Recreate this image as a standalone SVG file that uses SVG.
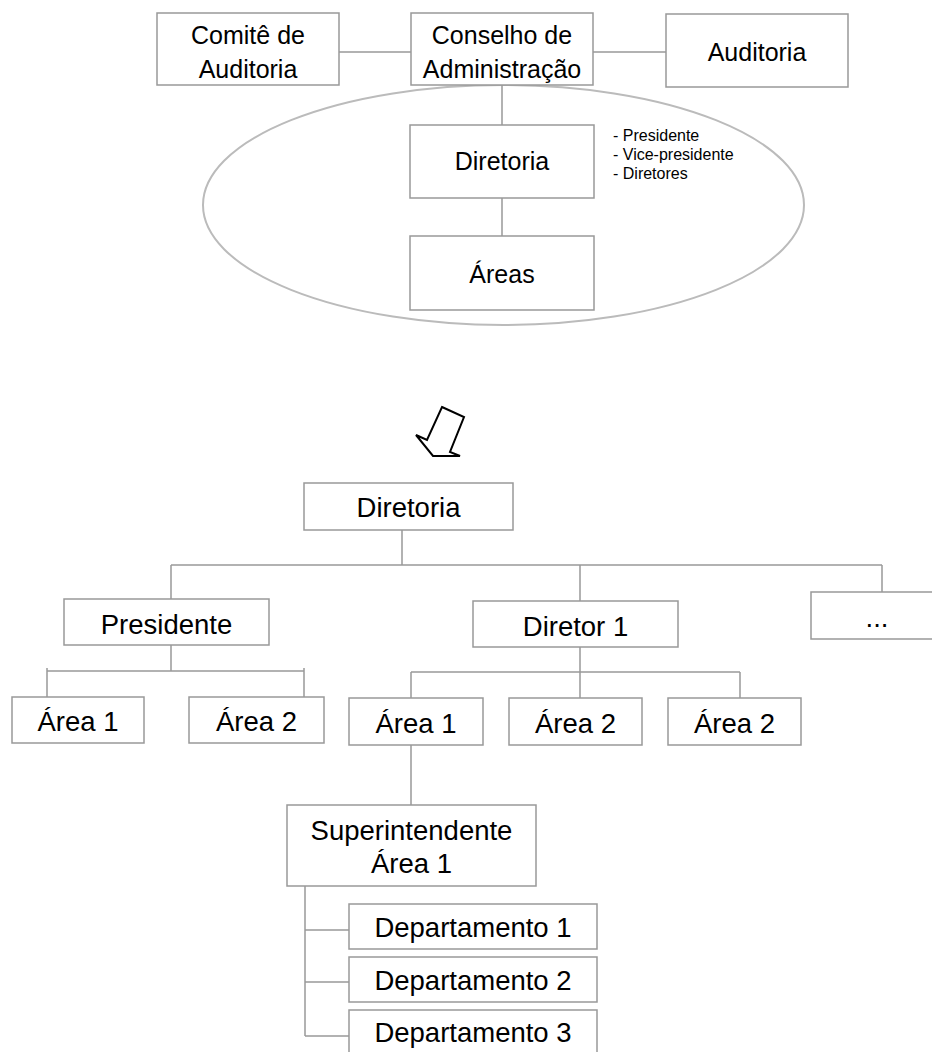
<svg xmlns="http://www.w3.org/2000/svg" width="932" height="1052" viewBox="0 0 932 1052">
  <style>
    .box { fill: #ffffff; stroke: #999999; stroke-width: 1.5; }
    .link { fill: none; stroke: #999999; stroke-width: 1.5; }
    .t25 { font-family: "Liberation Sans", Arial, sans-serif; font-size: 25px; fill: #000000; text-anchor: middle; }
    .t28 { font-family: "Liberation Sans", Arial, sans-serif; font-size: 27.5px; fill: #000000; text-anchor: middle; }
    .small { font-family: "Liberation Sans", Arial, sans-serif; font-size: 16px; fill: #000000; }
  </style>
  <rect width="932" height="1052" fill="#ffffff"/>

  <!-- governance group outline -->
  <ellipse id="governance-ring" cx="503.5" cy="205" rx="300.5" ry="120" fill="none" stroke="#bbbbbb" stroke-width="2"/>

  <!-- connectors -->
  <g id="connectors" class="link">
    <!-- top section -->
    <line x1="339" y1="52" x2="411" y2="52"/>
    <line x1="593" y1="52" x2="666" y2="52"/>
    <line x1="502" y1="85" x2="502" y2="125"/>
    <line x1="502" y1="198" x2="502" y2="236"/>
    <!-- Diretoria to first level -->
    <line x1="402" y1="530" x2="402" y2="565"/>
    <line x1="171" y1="565" x2="882" y2="565"/>
    <line x1="171" y1="565" x2="171" y2="599"/>
    <line x1="580" y1="565" x2="580" y2="601"/>
    <line x1="882" y1="565" x2="882" y2="592"/>
    <!-- Presidente areas -->
    <line x1="171" y1="645" x2="171" y2="671"/>
    <line x1="47" y1="671" x2="304" y2="671"/>
    <line x1="47" y1="668" x2="47" y2="697"/>
    <line x1="304" y1="668" x2="304" y2="697"/>
    <!-- Diretor 1 areas -->
    <line x1="580" y1="647" x2="580" y2="698"/>
    <line x1="411" y1="672" x2="740" y2="672"/>
    <line x1="411" y1="672" x2="411" y2="698"/>
    <line x1="740" y1="672" x2="740" y2="698"/>
    <!-- Area 1 to superintendent -->
    <line x1="411" y1="745" x2="411" y2="805"/>
    <!-- departments -->
    <line x1="305" y1="886" x2="305" y2="1036"/>
    <line x1="305" y1="930" x2="349" y2="930"/>
    <line x1="305" y1="982" x2="349" y2="982"/>
    <line x1="305" y1="1036" x2="349" y2="1036"/>
  </g>

  <!-- top section nodes -->
  <g id="comite">
    <rect class="box" x="157" y="13" width="182" height="72"/>
    <text class="t25" x="248" y="44">Comitê de</text>
    <text class="t25" x="248" y="78">Auditoria</text>
  </g>
  <g id="conselho">
    <rect class="box" x="411" y="13" width="182" height="72"/>
    <text class="t25" x="502" y="44">Conselho de</text>
    <text class="t25" x="502" y="78">Administração</text>
  </g>
  <g id="auditoria">
    <rect class="box" x="666" y="14" width="182" height="73"/>
    <text class="t25" x="757" y="61">Auditoria</text>
  </g>
  <g id="diretoria-top">
    <rect class="box" x="410" y="125" width="184" height="73"/>
    <text class="t25" x="502" y="170">Diretoria</text>
  </g>
  <g id="diretoria-notes">
    <text class="small" x="613" y="141">- Presidente</text>
    <text class="small" x="613" y="160">- Vice-presidente</text>
    <text class="small" x="613" y="179">- Diretores</text>
  </g>
  <g id="areas-top">
    <rect class="box" x="410" y="236" width="184" height="74"/>
    <text class="t25" x="502" y="283">Áreas</text>
  </g>

  <!-- block arrow -->
  <g id="expand-arrow">
    <polygon points="442,407 464,417 450,452 460,456 433,456 416,435 427,440" fill="#ffffff" stroke="#000000" stroke-width="2" stroke-linejoin="miter"/>
  </g>

  <!-- bottom section nodes -->
  <g id="diretoria">
    <rect class="box" x="304" y="483" width="209" height="47"/>
    <text class="t28" x="408.5" y="517">Diretoria</text>
  </g>
  <g id="presidente">
    <rect class="box" x="64" y="599" width="205" height="46"/>
    <text class="t28" x="166.5" y="634">Presidente</text>
  </g>
  <g id="diretor-1">
    <rect class="box" x="473" y="601" width="205" height="46"/>
    <text class="t28" x="575.5" y="636">Diretor 1</text>
  </g>
  <g id="outros">
    <rect class="box" x="811" y="592" width="132" height="47"/>
    <text class="t28" x="877" y="627">...</text>
  </g>
  <g id="pres-area-1">
    <rect class="box" x="12" y="697" width="132" height="46"/>
    <text class="t28" x="78" y="731">Área 1</text>
  </g>
  <g id="pres-area-2">
    <rect class="box" x="189" y="697" width="135" height="46"/>
    <text class="t28" x="256.5" y="731">Área 2</text>
  </g>
  <g id="dir-area-1">
    <rect class="box" x="349" y="698" width="134" height="47"/>
    <text class="t28" x="416" y="733">Área 1</text>
  </g>
  <g id="dir-area-2">
    <rect class="box" x="509" y="698" width="133" height="47"/>
    <text class="t28" x="575.5" y="733">Área 2</text>
  </g>
  <g id="dir-area-3">
    <rect class="box" x="668" y="698" width="133" height="47"/>
    <text class="t28" x="734.5" y="733">Área 2</text>
  </g>
  <g id="superintendente">
    <rect class="box" x="287" y="805" width="249" height="81"/>
    <text class="t28" x="411.5" y="840">Superintendente</text>
    <text class="t28" x="411.5" y="873">Área 1</text>
  </g>
  <g id="departamento-1">
    <rect class="box" x="349" y="904" width="248" height="45"/>
    <text class="t28" x="473" y="937">Departamento 1</text>
  </g>
  <g id="departamento-2">
    <rect class="box" x="349" y="957" width="248" height="45"/>
    <text class="t28" x="473" y="990">Departamento 2</text>
  </g>
  <g id="departamento-3">
    <rect class="box" x="349" y="1010" width="248" height="45"/>
    <text class="t28" x="473" y="1042">Departamento 3</text>
  </g>
</svg>
